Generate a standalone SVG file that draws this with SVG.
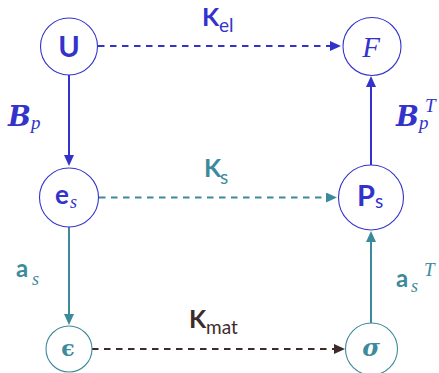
<svg xmlns="http://www.w3.org/2000/svg" width="439" height="373" viewBox="0 0 439 373">
<style>
.bg{fill:#ffffff}
.nb{fill:#ffffff;stroke:#3333cc;stroke-width:1.1}
.nt{fill:#ffffff;stroke:#3d8a9c;stroke-width:1.1}
.lb{stroke:#3333cc;stroke-width:2;fill:none}
.lt{stroke:#3d8a9c;stroke-width:2;fill:none}
.ld{stroke:#3d2b2b;stroke-width:2;fill:none}
.dash{stroke-dasharray:6.5 5.5}
.sans{font-family:Lato,"Open Sans","Liberation Sans",sans-serif}
.serif{font-family:"Liberation Serif","DejaVu Serif",serif}
.dv{font-family:"DejaVu Serif","Liberation Serif",serif}
.cb{fill:#3333cc}
.ct{fill:#3d8a9c}
.cd{fill:#3d2b2b}
</style>
<defs>
<marker id="ab" viewBox="0 0 11 10" refX="5" refY="5" markerWidth="11" markerHeight="10" markerUnits="userSpaceOnUse" orient="auto"><path d="M0,0 L11,5 L0,10 z" fill="#3333cc"/></marker>
<marker id="at" viewBox="0 0 11 10" refX="5" refY="5" markerWidth="11" markerHeight="10" markerUnits="userSpaceOnUse" orient="auto"><path d="M0,0 L11,5 L0,10 z" fill="#3d8a9c"/></marker>
<marker id="ad" viewBox="0 0 11 10" refX="5" refY="5" markerWidth="11" markerHeight="10" markerUnits="userSpaceOnUse" orient="auto"><path d="M0,0 L11,5 L0,10 z" fill="#3d2b2b"/></marker>
</defs>
<rect class="bg" x="0" y="0" width="439" height="373"/>
<g id="connectors">
<line class="lb dash" x1="98" y1="46" x2="335" y2="46" marker-end="url(#ab)"/>
<line class="lb" x1="69" y1="75" x2="69" y2="160" marker-end="url(#ab)"/>
<line class="lb" x1="371" y1="165" x2="371" y2="82" marker-end="url(#ab)"/>
<line class="lt dash" x1="99" y1="197.5" x2="331" y2="197.5" marker-end="url(#at)"/>
<line class="lt" x1="69" y1="227" x2="69" y2="319" marker-end="url(#at)"/>
<line class="lt" x1="371" y1="323" x2="371" y2="237" marker-end="url(#at)"/>
<line class="ld dash" x1="92" y1="349" x2="339" y2="349" marker-end="url(#ad)"/>
<text class="sans cb" x="202" y="26" font-size="25" font-weight="bold">K</text>
<text class="sans cb" x="219" y="32" font-size="19">el</text>
<text class="sans ct" x="204" y="177" font-size="25" font-weight="bold">K</text>
<text class="sans ct" x="220" y="184" font-size="19">s</text>
<text class="sans cd" x="189" y="328" font-size="25" font-weight="bold">K</text>
<text class="sans cd" x="206" y="334" font-size="19">mat</text>
<text class="dv cb" x="8" y="126" font-size="27" font-weight="bold" font-style="italic">B</text>
<text class="serif cb" x="31" y="129" font-size="19" font-style="italic">p</text>
<text class="dv cb" x="396" y="126" font-size="27" font-weight="bold" font-style="italic">B</text>
<text class="serif cb" x="419" y="129" font-size="19" font-style="italic">p</text>
<text class="serif cb" x="425" y="112" font-size="19" font-style="italic">T</text>
<text class="sans ct" x="16" y="277" font-size="24" font-weight="bold">a</text>
<text class="serif ct" x="32" y="285" font-size="18" font-style="italic">s</text>
<text class="sans ct" x="396" y="287" font-size="24" font-weight="bold">a</text>
<text class="serif ct" x="411" y="292" font-size="18" font-style="italic">s</text>
<text class="serif ct" x="424" y="276" font-size="19" font-style="italic">T</text>
</g>
<g id="node-U">
<circle class="nb" cx="69" cy="46.5" r="28.5"/>
<text class="sans cb" x="69" y="57" font-size="29" font-weight="bold" text-anchor="middle">U</text>
</g>
<g id="node-F">
<circle class="nb" cx="372" cy="46.5" r="29"/>
<text class="serif cb" x="371" y="57" font-size="29" font-style="italic" text-anchor="middle">F</text>
</g>
<g id="node-es">
<circle class="nb" cx="69" cy="197.5" r="29.5"/>
<text class="sans cb" x="55" y="204" font-size="26" font-weight="bold">e</text>
<text class="serif cb" x="70" y="208" font-size="18" font-style="italic">s</text>
</g>
<g id="node-Ps">
<circle class="nb" cx="371" cy="197.5" r="32.5"/>
<text class="sans cb" x="357" y="206" font-size="29" font-weight="bold">P</text>
<text class="sans cb" x="375" y="208" font-size="19">s</text>
</g>
<g id="node-eps">
<circle class="nt" cx="69" cy="349" r="23"/>
<text class="dv ct" x="68" y="356" font-size="22" font-weight="bold" text-anchor="middle">ϵ</text>
</g>
<g id="node-sigma">
<circle class="nt" cx="371.5" cy="349" r="26"/>
<text class="dv ct" x="371" y="356" font-size="24" font-weight="bold" font-style="italic" text-anchor="middle">σ</text>
</g>
</svg>
